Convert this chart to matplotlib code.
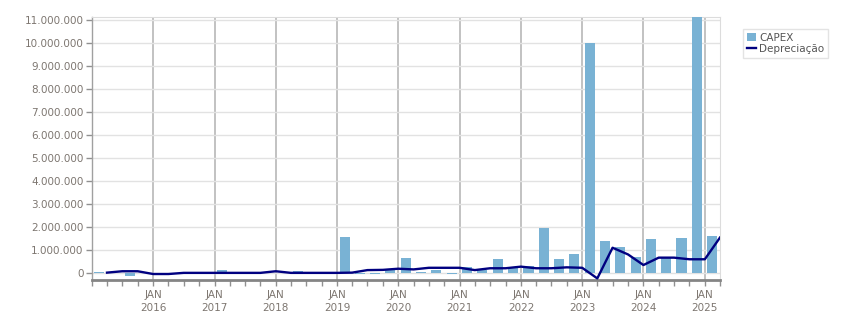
import matplotlib
matplotlib.use("Agg")
import matplotlib.pyplot as plt
import matplotlib.dates as mdates
from matplotlib.ticker import FuncFormatter, MultipleLocator
from matplotlib.lines import Line2D
from matplotlib.patches import Patch
import datetime as dt

# Quarters (label = year, quarter)
years = [2015]*4 + [2016]*4 + [2017]*4 + [2018]*4 + [2019]*4 + [2020]*4 + \
        [2021]*4 + [2022]*4 + [2023]*4 + [2024]*4 + [2025]
quarters = [1, 2, 3, 4]*10 + [1]

# CAPEX per quarter (in millions)
capex = [0.05, 0.0, -0.10, 0.0,
         0.0, 0.0, 0.0, 0.0,
         0.16, 0.0, 0.0, 0.03,
         0.03, 0.10, 0.0, 0.0,
         1.58, -0.03, -0.03, 0.14,
         0.66, 0.06, 0.14, -0.04,
         0.27, 0.16, 0.62, 0.26,
         0.32, 1.98, 0.62, 0.84,
         10.0, 1.40, 1.14, 0.71,
         1.49, 0.65, 1.53, 11.2,
         1.62]

# Depreciação per quarter (in millions)
deprec = [0.03, 0.09, 0.09, -0.03,
          -0.03, 0.02, 0.02, 0.02,
          0.02, 0.02, 0.02, 0.09,
          0.02, 0.02, 0.02, 0.02,
          0.03, 0.14, 0.15, 0.20,
          0.17, 0.24, 0.24, 0.24,
          0.14, 0.22, 0.22, 0.29,
          0.22, 0.22, 0.26, 0.24,
          -0.22, 1.11, 0.82, 0.36,
          0.68, 0.68, 0.61, 0.61,
          1.55]

tick_years = list(range(2016, 2026))

def q_start(y, q):
    return dt.date(y, 3*(q-1)+1, 1)

def q_end(y, q):
    if q == 4:
        return dt.date(y+1, 1, 1)
    return dt.date(y, 3*q+1, 1)

bar_x = [mdates.date2num(q_start(y, q)) + 45 for y, q in zip(years, quarters)]
line_x = [mdates.date2num(q_end(y, q)) for y, q in zip(years, quarters)]
capex_v = [v*1e6 for v in capex]
dep_v = [v*1e6 for v in deprec]

fig = plt.figure(figsize=(8.51, 3.13), dpi=100)
ax = fig.add_axes([0.108, 0.1054, 0.738, 0.8403])

bar_color = '#79b2d4'
line_color = '#000080'
txt_color = '#7d7670'

ax.bar(bar_x, capex_v, width=60, color=bar_color, zorder=3)
ax.plot(line_x, dep_v, color=line_color, lw=1.7, zorder=4)

ax.yaxis.set_major_locator(MultipleLocator(1e6))
ax.yaxis.set_major_formatter(FuncFormatter(lambda v, p: f"{int(round(v)):,}".replace(",", ".")))

major = [mdates.date2num(dt.date(y, 1, 1)) for y in tick_years]
minor = [mdates.date2num(q_start(y, q)) for y in range(2015, 2026) for q in (1, 2, 3, 4)]
ax.set_xticks(major)
ax.set_xticklabels([f"JAN\n{y}" for y in tick_years])
ax.set_xticks(minor, minor=True)

ax.set_xlim(mdates.date2num(dt.date(2015, 1, 1)), mdates.date2num(dt.date(2025, 4, 1)))
ax.set_ylim(-0.29e6, 11.12e6)

ax.tick_params(axis='x', which='both', direction='out', length=4, width=1,
               color='#909090', labelsize=7.5, labelcolor=txt_color, pad=3)
ax.tick_params(axis='y', which='major', direction='out', length=4, width=1,
               color='#909090', labelsize=7.5, labelcolor=txt_color, pad=2)
for lab in ax.get_xticklabels():
    lab.set_linespacing(1.35)

ax.grid(axis='y', color='#e2e2e2', lw=1, zorder=0)
ax.grid(axis='x', which='major', color='#b8b8b8', lw=1.2, zorder=1)
ax.set_axisbelow(True)

ax.spines['bottom'].set_color('#858585')
ax.spines['bottom'].set_linewidth(2)
ax.spines['left'].set_color('#a0a0a0')
ax.spines['left'].set_linewidth(1)
ax.spines['top'].set_color('#dcdcdc')
ax.spines['right'].set_color('#dcdcdc')

handles = [Patch(facecolor=bar_color, edgecolor='none'),
           Line2D([0], [0], color=line_color, lw=1.7)]
leg = fig.legend(handles, ['CAPEX', 'Depreciação'], loc='upper left',
                 bbox_to_anchor=(743/851, 1-29/313), frameon=True, fancybox=False,
                 fontsize=7.5, handlelength=0.9, handleheight=0.9, handletextpad=0.3,
                 borderpad=0.35, labelspacing=0.15, borderaxespad=0)
leg.get_frame().set_edgecolor('#dcdcdc')
leg.get_frame().set_linewidth(1)
for t in leg.get_texts():
    t.set_color('#555555')

fig.savefig('out.png', dpi=100)
